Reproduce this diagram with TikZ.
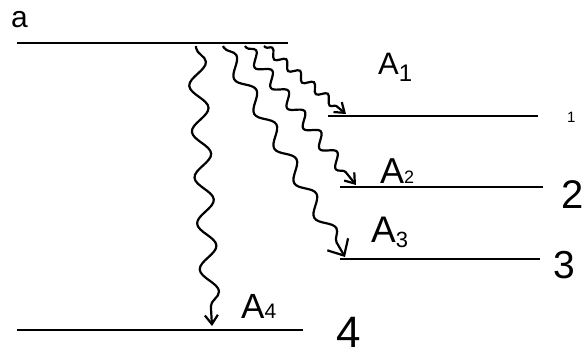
\documentclass[tikz,border=0pt]{standalone}
\usepackage{fontspec}
\setmainfont{Liberation Sans}
\usetikzlibrary{arrows.meta,decorations.pathmorphing}
\begin{document}
\begin{tikzpicture}[x=1pt,y=-1pt,
  level/.style={line width=2.6pt},
  lab/.style={inner sep=0pt,anchor=base west},
  sz/.style={font=\fontsize{#1}{#1}\selectfont},
  wave/.style={line width=2.2pt,-{Straight Barb[length=9pt,width=13pt,line width=2.2pt]},
    decorate,decoration={snake,amplitude=#1,segment length=30pt,pre length=2pt,post length=10pt}},
  wave/.default=6pt]
\useasboundingbox (0,0) rectangle (585,358);
% levels
\coordinate (aL) at (17,43);  \coordinate (aR) at (288,43);
\coordinate (l1L) at (328,116); \coordinate (l1R) at (538,116);
\coordinate (l2L) at (340,187); \coordinate (l2R) at (543,187);
\coordinate (l3L) at (340,259); \coordinate (l3R) at (540,259);
\coordinate (l4L) at (17,330);  \coordinate (l4R) at (303,330);
\draw[level] (aL) -- (aR);
\draw[level] (l1L) -- (l1R);
\draw[level] (l2L) -- (l2R);
\draw[level] (l3L) -- (l3R);
\draw[level] (l4L) -- (l4R);
% labels
\node[lab,sz=30] (la) at (11,28) {a};
\node[lab,sz=15] (n1) at (567,123) {1};
\node[lab,sz=40] (n2) at (561,208) {2};
\node[lab,sz=39] (n3) at (553,278) {3};
\node[lab,sz=44] (n4) at (336,347) {4};
\node[lab,sz=31] (A1) at (378,75) {A\raisebox{-0.4ex}{\fontsize{24}{24}\selectfont 1}};
\node[lab,sz=36] (A2) at (380,183) {A\raisebox{0ex}{\fontsize{18}{18}\selectfont 2}};
\node[lab,sz=37] (A3) at (371,242) {A\raisebox{-0.3ex}{\fontsize{22}{22}\selectfont 3}};
\node[lab,sz=35] (A4) at (241,318) {A\raisebox{0ex}{\fontsize{21}{21}\selectfont 4}};
% wavy arrows
\coordinate (s1) at (264,46); \coordinate (e1) at (346,114);
\coordinate (s2) at (245,46); \coordinate (e2) at (356,185);
\coordinate (s3) at (223,46); \coordinate (e3) at (345,257);
\coordinate (s4) at (196,46); \coordinate (e4) at (212,326);
\draw[wave=4pt,decoration={segment length=18pt}] (s1) -- (e1);
\draw[wave=6pt,decoration={segment length=26pt}] (s2) -- (e2);
\draw[wave=7pt,decoration={segment length=40pt,post length=16pt},
  -{Straight Barb[length=13pt,width=24pt,line width=2.2pt]}] (s3) -- (e3);
\draw[wave=9pt,decoration={segment length=46pt}] (s4) -- (e4);
\end{tikzpicture}
\end{document}
